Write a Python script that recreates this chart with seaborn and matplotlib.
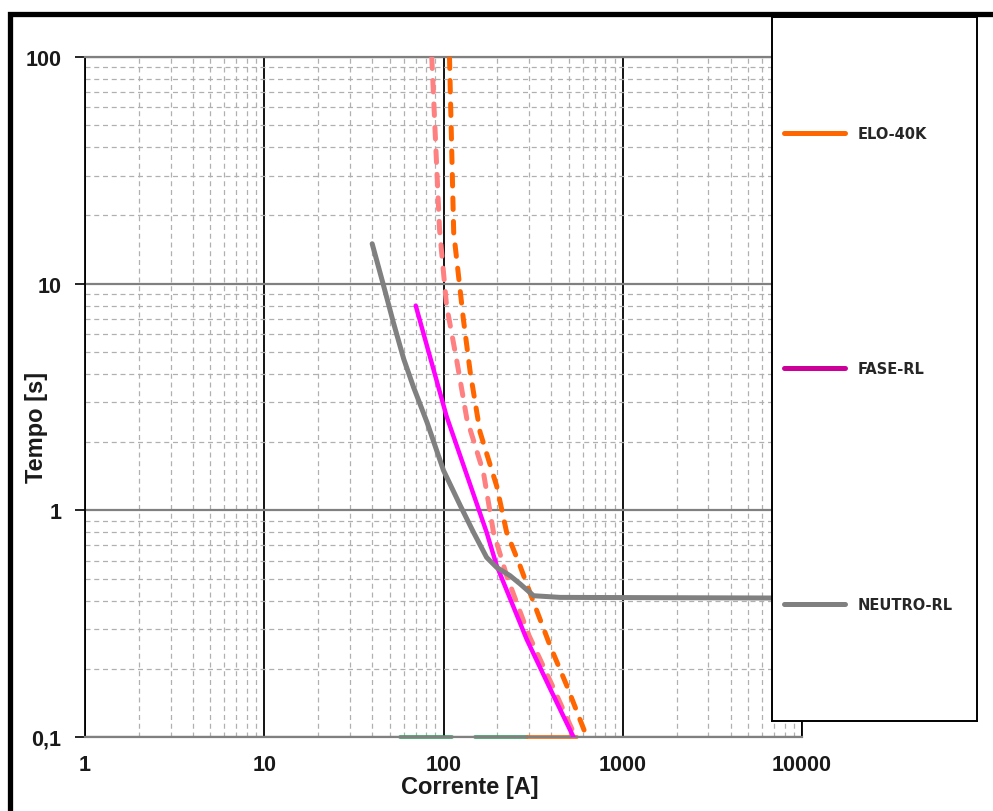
import matplotlib
matplotlib.use("Agg")
import matplotlib.pyplot as plt
import seaborn as sns
import numpy as np
from matplotlib.lines import Line2D
from matplotlib.patches import Rectangle
from matplotlib.ticker import FixedLocator, NullFormatter

# curve data (current [A], time [s])
elo_i = [108, 114, 129, 141, 160, 198, 225, 267, 318, 393, 488, 630]
elo_t = [100, 16.8, 7.0, 4.06, 2.21, 1.28, 0.8, 0.57, 0.393, 0.253, 0.168, 0.1]

elo_min_i = [86, 95, 104, 119, 135, 167, 190, 225, 300, 410, 545]
elo_min_t = [100, 17.4, 8.0, 4.5, 2.53, 1.47, 0.8, 0.515, 0.28, 0.165, 0.1]

fase_i = [70, 104, 174, 198, 291, 394, 531]
fase_t = [8, 2.6, 0.8, 0.57, 0.27, 0.163, 0.1]

neutro_i = [40, 46, 52.5, 60, 68, 81, 100, 124, 147, 174, 198, 235, 268, 318, 447, 10000]
neutro_t = [15, 10, 6.75, 4.65, 3.5, 2.44, 1.5, 1.05, 0.80, 0.62, 0.56, 0.515, 0.473, 0.42, 0.413, 0.41]

green1_i = [57, 111]
green2_i = [150, 291]
orange_base_i = [291, 553]
base_t = [0.1, 0.1]

x_ticks = [1, 10, 100, 1000, 10000]
x_labels = ["1", "10", "100", "1000", "10000"]
y_ticks = [0.1, 1, 10, 100]
y_labels = ["0,1", "1", "10", "100"]

leg_labels = ["ELO-40K", "FASE-RL", "NEUTRO-RL"]
leg_colors = ["#FF6600", "#CC0099", "#808080"]

sns.set_theme(style="white")
plt.rcParams['font.family'] = ['Liberation Sans', 'DejaVu Sans']

fig = plt.figure(figsize=(9.93, 8.12), dpi=100)
ax = fig.add_axes([85/993, 74/812, 717/993, 680/812])
ax.set_xscale("log")
ax.set_yscale("log")
ax.set_xlim(1, 10000)
ax.set_ylim(0.1, 100)

# grid
minor = [m * 10.0**e for e in range(-1, 4) for m in range(2, 10)]
ax.xaxis.set_minor_locator(FixedLocator(minor))
ax.yaxis.set_minor_locator(FixedLocator(minor))
ax.xaxis.set_minor_formatter(NullFormatter())
ax.yaxis.set_minor_formatter(NullFormatter())
ax.grid(which="minor", axis="both", color="#b0b0b0", lw=0.9, ls=(0, (4, 3)))
ax.grid(which="major", axis="x", color="black", lw=1.3, ls="-")
ax.grid(which="major", axis="y", color="#808080", lw=1.6, ls="-")
ax.set_axisbelow(True)

dash = (0, (2.3, 2.4))
sns.lineplot(x=elo_min_i, y=elo_min_t, ax=ax, color="#FF8080", lw=3.6, sort=False,
             estimator=None, linestyle=dash, dash_capstyle="round", zorder=3)
sns.lineplot(x=elo_i, y=elo_t, ax=ax, color="#FF6600", lw=3.6, sort=False,
             estimator=None, linestyle=dash, dash_capstyle="round", zorder=3)
sns.lineplot(x=fase_i, y=fase_t, ax=ax, color="#FF00FF", lw=3.2, sort=False,
             estimator=None, zorder=4)
sns.lineplot(x=neutro_i, y=neutro_t, ax=ax, color="#808080", lw=3.6, sort=False,
             estimator=None, zorder=5, solid_joinstyle="round")
for xs, c in [(green1_i, "#33A060"), (green2_i, "#33A060"), (orange_base_i, "#FF6600")]:
    sns.lineplot(x=xs, y=base_t, ax=ax, color=c, lw=2.6, sort=False,
                 estimator=None, clip_on=False, zorder=2, solid_capstyle="round")

ax.set_xticks(x_ticks, x_labels)
ax.set_yticks(y_ticks, y_labels)
ax.tick_params(axis="x", which="major", length=0, pad=12, labelsize=15.5)
ax.tick_params(axis="y", which="major", length=7, width=1.2, color="black",
               pad=10, labelsize=15.5, left=True)
ax.tick_params(which="minor", length=0)
for lab in ax.get_xticklabels() + ax.get_yticklabels():
    lab.set_fontweight("bold")
    lab.set_color("#1a1a1a")

for side in ["left", "right"]:
    ax.spines[side].set_color("black")
    ax.spines[side].set_linewidth(1.3)
for side in ["top", "bottom"]:
    ax.spines[side].set_color("#808080")
    ax.spines[side].set_linewidth(1.6)

ax.set_xlabel("Corrente [A]", fontsize=17, fontweight="bold", color="#1a1a1a")
ax.set_ylabel("Tempo [s]", fontsize=17, fontweight="bold", color="#1a1a1a")
ax.xaxis.set_label_coords(0.537, -0.056)
ax.yaxis.set_label_coords(-0.052, 0.456)

# legend box
lax = fig.add_axes([772/993, 90/812, 205/993, 704/812])
lax.set_facecolor("white")
lax.set_xticks([])
lax.set_yticks([])
for s in lax.spines.values():
    s.set_visible(True)
    s.set_color("black")
    s.set_linewidth(1.4)
handles = [Line2D([], [], color=c, lw=3.6, solid_capstyle="round") for c in leg_colors]
leg = lax.legend(handles, leg_labels, loc="center left", frameon=False,
                 prop={"family": "DejaVu Sans", "weight": "bold", "size": 10.5},
                 labelspacing=15.1, handlelength=4.2, handletextpad=0.9,
                 borderaxespad=0.4)

# thick document frame
fig.add_artist(Rectangle((10/993, -0.2), 1.2, 1.2 - 15/812, transform=fig.transFigure,
                         fill=False, lw=3.8, edgecolor="black", clip_on=False))

fig.savefig("out.png", dpi=100)
